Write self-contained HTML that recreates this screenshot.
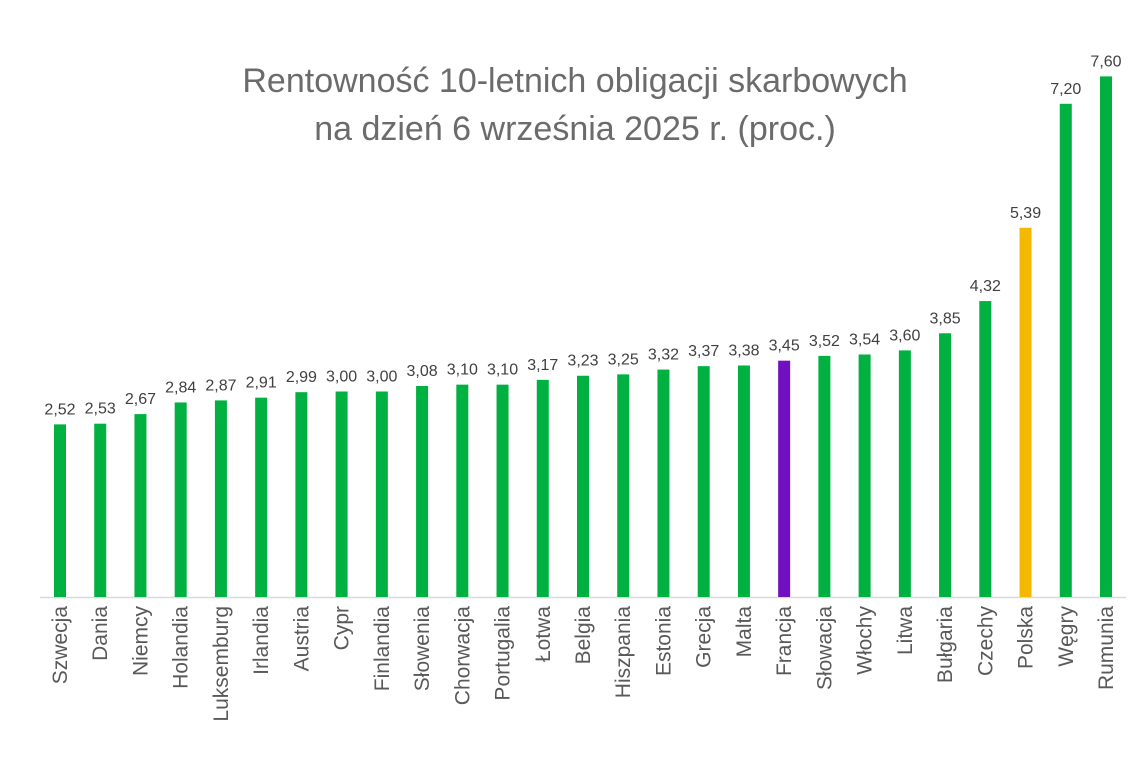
<!DOCTYPE html>
<html><head><meta charset="utf-8"><style>
body{margin:0;background:#fff;}
svg text{font-family:"Liberation Sans","DejaVu Sans",sans-serif;}
</style></head><body>
<svg id="chart" width="1145" height="764" viewBox="0 0 1145 764" xmlns="http://www.w3.org/2000/svg">
<text x="575" y="92" text-anchor="middle" font-size="34" fill="#6b6b6b">Rentowność 10-letnich obligacji skarbowych</text>
<text x="575" y="140" text-anchor="middle" font-size="34" fill="#6b6b6b">na dzień 6 września 2025 r. (proc.)</text>
<line x1="40" y1="597.5" x2="1126" y2="597.5" stroke="#d9d9d9" stroke-width="1.5"/>
<g id="bars"></g>
</svg>
<script>
const categories=["Szwecja","Dania","Niemcy","Holandia","Luksemburg","Irlandia","Austria","Cypr","Finlandia","Słowenia","Chorwacja","Portugalia","Łotwa","Belgia","Hiszpania","Estonia","Grecja","Malta","Francja","Słowacja","Włochy","Litwa","Bułgaria","Czechy","Polska","Węgry","Rumunia"];
const values=[2.52,2.53,2.67,2.84,2.87,2.91,2.99,3.00,3.00,3.08,3.10,3.10,3.17,3.23,3.25,3.32,3.37,3.38,3.45,3.52,3.54,3.60,3.85,4.32,5.39,7.20,7.60];
const valueLabels=["2,52","2,53","2,67","2,84","2,87","2,91","2,99","3,00","3,00","3,08","3,10","3,10","3,17","3,23","3,25","3,32","3,37","3,38","3,45","3,52","3,54","3,60","3,85","4,32","5,39","7,20","7,60"];
const highlight={"Francja":"#7010c0","Polska":"#f5b800"};
const NS="http://www.w3.org/2000/svg";
const x=i=>60+i*(1106-60)/26;
const y=v=>597-v*68.5;
const g=document.getElementById('bars');
categories.forEach((c,i)=>{
  const r=document.createElementNS(NS,'rect');
  
  
  r.setAttribute('x',x(i)-6);r.setAttribute('width',12);
  r.setAttribute('y',y(values[i]));r.setAttribute('height',597-y(values[i]));
  r.setAttribute('fill',highlight[c]||'#00b040');
  g.appendChild(r);
  const t=document.createElementNS(NS,'text');
  
  
  t.setAttribute('x',x(i));t.setAttribute('y',y(values[i])-10);
  t.setAttribute('text-anchor','middle');t.setAttribute('font-size','16');t.setAttribute('fill','#404040');
  t.textContent=valueLabels[i];g.appendChild(t);
  const l=document.createElementNS(NS,'text');
  
  
  l.setAttribute('transform','translate('+(x(i)+7)+',606) rotate(-90)');
  l.setAttribute('text-anchor','end');l.setAttribute('font-size','21');l.setAttribute('fill','#595959');
  l.textContent=c;g.appendChild(l);
});
</script>
</body></html>
